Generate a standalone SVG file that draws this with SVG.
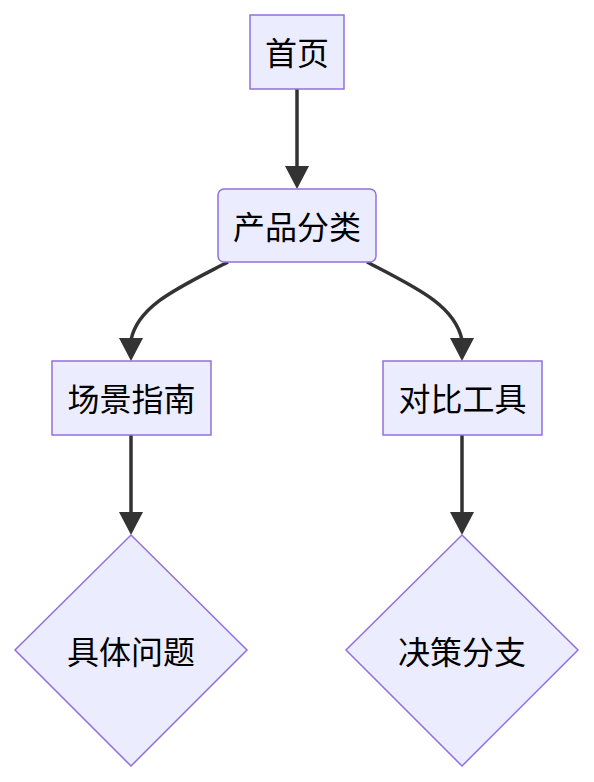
<svg xmlns="http://www.w3.org/2000/svg" width="594" height="782" viewBox="0 0 594 782">
<style>
.n{fill:#ECECFF;stroke:#9370DB;stroke-width:1.5}
.t{font-family:"Noto Sans CJK SC","Noto Sans",sans-serif;font-size:32px;fill:#000;text-anchor:middle;dominant-baseline:central}
.e{fill:none;stroke:#333;stroke-width:3.5}
.h{fill:#333}
</style>
<rect width="594" height="782" fill="#fff"/>
<g id="edges">
<path class="e" d="M297,89 L297,168"/>
<path class="h" d="M285,166 L309,166 L297,189 Z"/>
<path class="e" d="M228,262 C180,287 138,305 131,340"/>
<path class="h" d="M119,338 L143,338 L131,361 Z"/>
<path class="e" d="M367,262 C415,287 455,305 462,340"/>
<path class="h" d="M450,338 L474,338 L462,361 Z"/>
<path class="e" d="M131,435 L131,514"/>
<path class="h" d="M119,512 L143,512 L131,535 Z"/>
<path class="e" d="M462,435 L462,514"/>
<path class="h" d="M450,512 L474,512 L462,535 Z"/>
</g>
<g id="A"><rect class="n" x="250" y="15" width="94" height="74"/><text class="t" x="297" y="51">首页</text></g>
<g id="B"><rect class="n" x="218" y="189" width="158" height="73" rx="6"/><text class="t" x="297" y="225">产品分类</text></g>
<g id="C"><rect class="n" x="52" y="361" width="159" height="74"/><text class="t" x="131.5" y="397">场景指南</text></g>
<g id="D"><rect class="n" x="383" y="361" width="159" height="74"/><text class="t" x="462.5" y="397">对比工具</text></g>
<g id="E"><polygon class="n" points="131,535 247,650 131,766 15,650"/><text class="t" x="131" y="650">具体问题</text></g>
<g id="F"><polygon class="n" points="462,535 578,650 462,766 346,650"/><text class="t" x="462" y="650">决策分支</text></g>
</svg>
